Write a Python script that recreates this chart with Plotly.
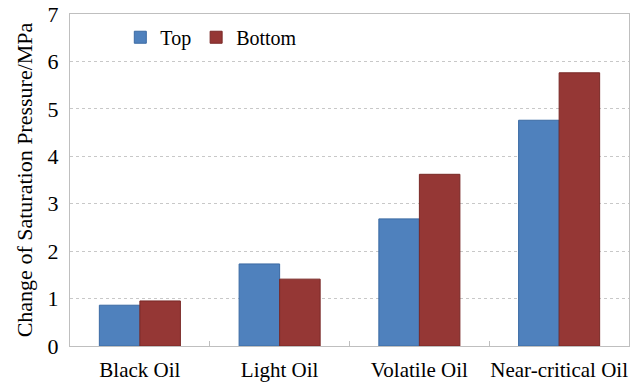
import plotly.graph_objects as go

# Change of saturation pressure by fluid type, top vs bottom of the column
categories = ["Black Oil", "Light Oil", "Volatile Oil", "Near-critical Oil"]
top_values = [0.86, 1.73, 2.68, 4.76]
bottom_values = [0.95, 1.41, 3.62, 5.76]
y_ticks = [0, 1, 2, 3, 4, 5, 6, 7]

FONT = "Liberation Serif"
AXIS_GREY = "#bfbfbf"

fig = go.Figure()
fig.add_trace(go.Bar(
    name="Top", x=categories, y=top_values,
    marker=dict(color="#4f81bd", line=dict(color="#3b6aa3", width=1)),
))
fig.add_trace(go.Bar(
    name="Bottom", x=categories, y=bottom_values,
    marker=dict(color="#953735", line=dict(color="#792826", width=1)),
))

fig.update_layout(
    width=639, height=383,
    margin=dict(l=70, r=10, t=14, b=37),
    paper_bgcolor="white", plot_bgcolor="white",
    font=dict(family=FONT, color="black", size=21),
    barmode="group", bargap=0.42, bargroupgap=0,
    showlegend=True,
    legend=dict(
        orientation="h", x=0.09, y=0.93, xanchor="left", yanchor="middle",
        font=dict(family=FONT, size=20), bgcolor="rgba(0,0,0,0)",
        itemwidth=30, tracegroupgap=0,
    ),
    xaxis=dict(
        type="category", automargin=False, tickangle=0,
        showline=True, linecolor=AXIS_GREY, linewidth=1, mirror=True,
        ticks="inside", tickson="boundaries", ticklen=5, tickcolor=AXIS_GREY,
        showgrid=False, ticklabelstandoff=5,
        tickfont=dict(family=FONT, size=21),
    ),
    yaxis=dict(
        range=[0, 7], tickvals=y_ticks, automargin=False,
        showline=True, linecolor=AXIS_GREY, linewidth=1, mirror=True,
        ticks="", showgrid=True, gridcolor="#c8c8c8", griddash="dot", gridwidth=1,
        zeroline=False, ticklabelstandoff=6,
        tickfont=dict(family=FONT, size=22),
        title=dict(text="Change of Saturation Pressure/MPa",
                   font=dict(family=FONT, size=22), standoff=8),
    ),
)

fig.write_html("out.html")
